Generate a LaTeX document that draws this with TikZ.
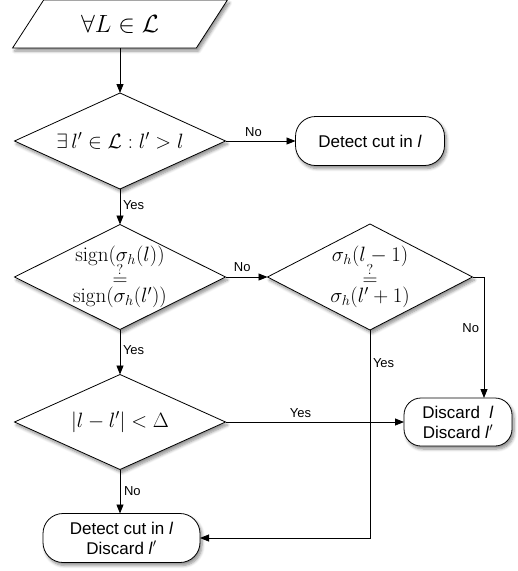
\documentclass[tikz,border=0pt]{standalone}
\usepackage{amsmath}
\usepackage{fontspec}
\newfontfamily\hv{Liberation Sans}
\usetikzlibrary{shapes.geometric,shapes.misc,arrows.meta,shadows.blur}
\begin{document}
\begin{tikzpicture}[x=1pt,y=-1pt,
  every node/.style={inner sep=0pt, outer sep=0pt},
  shad/.style={blur shadow={shadow xshift=2pt, shadow yshift=-3pt, shadow blur steps=6, shadow blur radius=3pt, shadow opacity=45}},
  dia/.style={shape=diamond, draw, line width=0.8pt, fill=white, shad, minimum width=211pt},
  term/.style={draw, line width=0.8pt, fill=white, shad, rounded corners=20pt, font=\hv\fontsize{17}{20}\selectfont, align=center},
  mathtxt/.style={font=\fontsize{21}{23}\selectfont, align=center},
  lab/.style={font=\hv\fontsize{13}{15}\selectfont},
  arr/.style={line width=0.8pt, -{Triangle[length=9pt,width=7pt]}},
  ln/.style={line width=0.8pt}
]
\useasboundingbox (0,0) rectangle (518,571);
\node[trapezium, trapezium left angle=49, trapezium right angle=131, trapezium stretches=true,
      draw, line width=0.8pt, fill=white, shad, minimum width=215pt, minimum height=48pt,
      font=\fontsize{24}{26}\selectfont] (in) at (120,24) {$\forall L \in \mathcal{L}$};
\node[dia, minimum height=96pt, label={[mathtxt]center:$\exists\, l' \in \mathcal{L} : l' > l$}] (d1) at (120,141) {};
\node[term, minimum width=149pt, minimum height=49pt] (det1) at (370,141) {Detect cut in \textit{l}};
\node[dia, minimum height=105pt, label={[mathtxt]center:{$\mathrm{sign}(\sigma_h(l))$\\[-6pt]$\stackrel{?}{=}$\\[-6pt]$\mathrm{sign}(\sigma_h(l'))$}}] (d2) at (120,277) {};
\node[dia, minimum width=205pt, minimum height=106pt, label={[mathtxt]center:{$\sigma_h(l-1)$\\[-6pt]$\stackrel{?}{=}$\\[-6pt]$\sigma_h(l'+1)$}}] (d3) at (370,277) {};
\node[dia, minimum height=95pt, label={[mathtxt]center:$|l - l'| < \Delta$}] (d4) at (120,422) {};
\node[term, rounded corners=17pt, minimum width=108pt, minimum height=48pt] (dis) at (458,422) {Discard \ \textit{l}\\Discard \textit{l}$'$};
\node[term, minimum width=157pt, minimum height=49pt] (det2) at (121.5,538) {Detect cut in \textit{l}\\Discard \textit{l}$'$};
\coordinate (c1) at (484,277);

\draw[arr] (in.south -| d1.north) -- (d1.north);
\draw[arr] (d1.east) -- node[lab, above=4pt, pos=0.4] {No} (det1.west);
\draw[arr] (d1.south) -- node[lab, right=3pt, pos=0.45] {Yes} (d2.north);
\draw[arr] (d2.east) -- node[lab, above=5pt, pos=0.4] {No} (d3.west);
\draw[arr] (d2.south) -- node[lab, right=3pt, pos=0.45] {Yes} (d4.north);
\draw[ln] (d3.east) -- (c1);
\draw[arr] (c1) -- node[lab, left=5pt, pos=0.42] {No} (c1 |- dis.north);
\draw[arr] (d3.south) |- node[lab, right=3pt, pos=0.08] {Yes} (det2.east);
\draw[arr] (d4.east) -- node[lab, above=4pt, pos=0.42] {Yes} (dis.west);
\draw[arr] (d4.south) -- node[lab, right=4pt, pos=0.5] {No} (det2.north -| d4.south);
\end{tikzpicture}
\end{document}
